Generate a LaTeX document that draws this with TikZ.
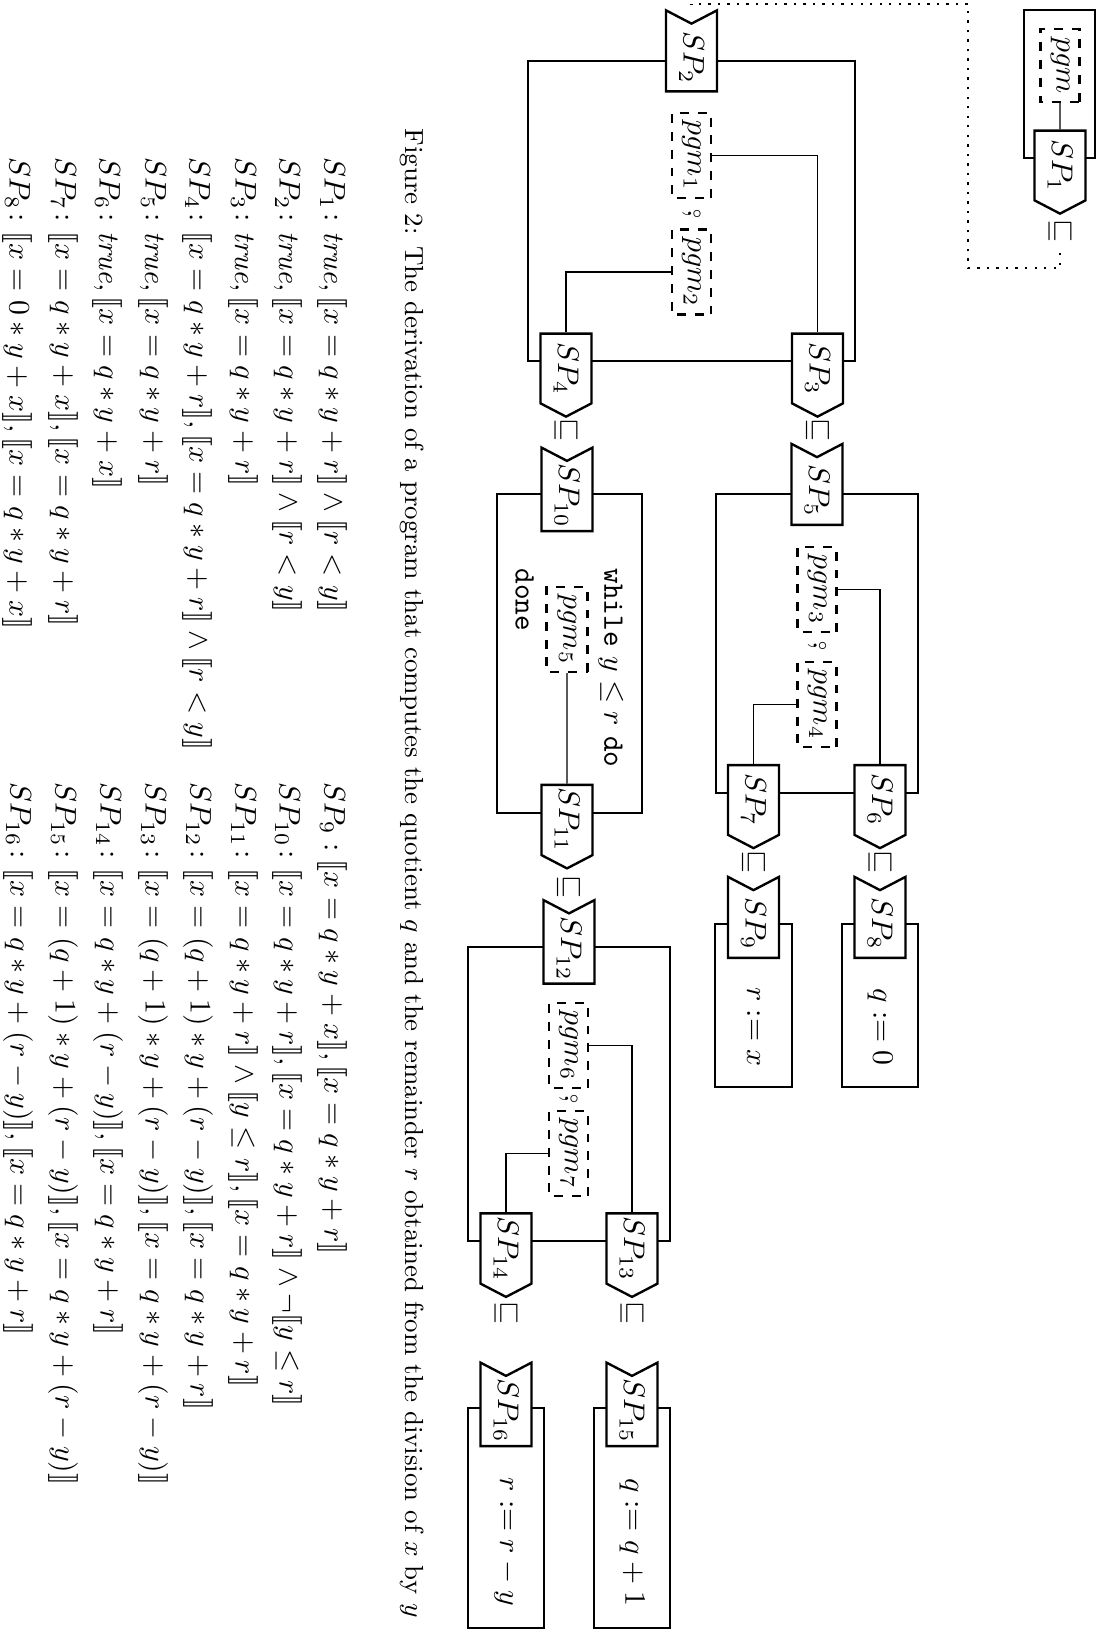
\documentclass[tikz,border=0pt]{standalone}
\usepackage{fontspec}
\usepackage{amsmath}
\usepackage{amssymb}
\usepackage{stmaryrd}
\usepackage{tikz}
\usetikzlibrary{shapes.symbols, positioning}

\newcommand{\unitpx}{0.336pt}
\newcommand{\seqcomp}{\mathbin{\ooalign{\hidewidth\raisebox{1.7pt}{$\scriptscriptstyle\circ$}\hidewidth\cr$,$\cr}}}

\tikzstyle{block} = [thick]
\tikzstyle{sp-out} = [signal, signal to=east, signal pointer angle=125, 
draw=black, thick, fill=white, 
minimum width=83*\unitpx, 
minimum height=51*\unitpx, 
inner sep=1pt]
\tikzstyle{sp-in} = [signal, signal from=west, signal to=nowhere, signal pointer angle=125, 
draw=black, thick, fill=white, 
minimum width=81*\unitpx, 
minimum height=51*\unitpx, 
inner sep=1pt]
\tikzstyle{pgm-box} = [rectangle, dashed, thick, draw=black, 
minimum width=85*\unitpx, 
minimum height=39*\unitpx, 
inner sep=1pt]
\tikzstyle{dots} = [thick, dash pattern=on 0.8pt off 2.4pt]
\tikzstyle{spec} = [anchor=west, inner sep=0pt]

\begin{document}
\begin{tikzpicture}[x=\unitpx, y=\unitpx, rotate=-90, transform shape]
            \useasboundingbox (0,0) rectangle (1645,1099);

            % outer frames
            \draw [block] (10,1024) rectangle (158,1095);
            \draw [block] (61,528) rectangle (361,855);
            \draw [block] (494,716) rectangle (793,918);
            \draw [block] (494,497) rectangle (813,642);
            \draw [block] (924,842) rectangle (1087,918);
            \draw [block] (924,715) rectangle (1087,792);
            \draw [block] (947,468) rectangle (1241,670);
            \draw [block] (1408,594) rectangle (1628,670);
            \draw [block] (1408,468) rectangle (1628,544);

            % SP1
            \node (pgm) [pgm-box, minimum width=73*\unitpx] at (65.5,1060) {$pgm$};
            \node (sp1) [sp-out] at (165.5,1060) {$SP_1$};
            \node (ref1) at (231,1060) {$\sqsubseteq$};

            % SP2
            \node (sp2) [sp-in] at (57.5,691.5) {$SP_2$};
            \node (pgm1) [pgm-box] at (155.5,691.5) {$pgm_1$};
            \node (seq1) at (213.5,691.5) {$\seqcomp$};
            \node (pgm2) [pgm-box] at (272,691.5) {$pgm_2$};
            \node (sp3) [sp-out] at (368.5,817.5) {$SP_3$};
            \node (sp4) [sp-out] at (368.5,566) {$SP_4$};
            \node (ref3) at (430,817.5) {$\sqsubseteq$};
            \node (ref4) at (430,566) {$\sqsubseteq$};

            % SP5
            \node (sp5) [sp-in] at (491,817) {$SP_5$};
            \node (pgm3) [pgm-box] at (589.5,817) {$pgm_3$};
            \node (seq2) at (646,817) {$\seqcomp$};
            \node (pgm4) [pgm-box] at (704.5,817) {$pgm_4$};
            \node (sp6) [sp-out] at (800,880) {$SP_6$};
            \node (sp7) [sp-out] at (800,753.5) {$SP_7$};
            \node (ref6) at (862,880) {$\sqsubseteq$};
            \node (ref7) at (862,753.5) {$\sqsubseteq$};
            \node (sp8) [sp-in] at (924,880) {$SP_8$};
            \node (asg8) at (1027,880) {$q := 0$};
            \node (sp9) [sp-in] at (924,753.5) {$SP_9$};
            \node (asg9) at (1027,753.5) {$r := x$};

            % SP10
            \node (sp10) [sp-in] at (496,567) {$SP_{10}$};
            \node (while) [spec] at (568,611) {\texttt{while} $y \leq r$ \texttt{do}};
            \node (pgm5) [pgm-box, minimum height=41*\unitpx] at (629.5,567) {$pgm_5$};
            \node (done) [spec] at (568,524.5) {\texttt{done}};
            \node (sp11) [sp-out] at (820,567) {$SP_{11}$};
            \node (ref11) at (887,568.5) {$\sqsubseteq$};

            % SP12
            \node (sp12) [sp-in] at (948.5,569) {$SP_{12}$};
            \node (pgm6) [pgm-box] at (1045.5,568.5) {$pgm_6$};
            \node (seq3) at (1099,568.5) {$\seqcomp$};
            \node (pgm7) [pgm-box] at (1153.5,568.5) {$pgm_7$};
            \node (sp13) [sp-out] at (1248.5,632) {$SP_{13}$};
            \node (sp14) [sp-out] at (1248.5,506) {$SP_{14}$};
            \node (ref13) at (1313,632) {$\sqsubseteq$};
            \node (ref14) at (1313,506) {$\sqsubseteq$};
            \node (sp15) [sp-in] at (1411,632) {$SP_{15}$};
            \node (asg15) at (1542,632) {$q := q + 1$};
            \node (sp16) [sp-in] at (1411,506) {$SP_{16}$};
            \node (asg16) at (1542,506) {$r := r - y$};

            % links
            \draw (pgm) -- (sp1);
            \draw (pgm1.north) |- (sp3.west);
            \draw (pgm2.south) |- (sp4.west);
            \draw (pgm3.north) |- (sp6.west);
            \draw (pgm4.south) |- (sp7.west);
            \draw (pgm5) -- (sp11);
            \draw (pgm6.north) |- (sp13.west);
            \draw (pgm7.south) |- (sp14.west);
            \draw [dots, shorten >=6pt] (ref1.east) -- ++(15,0) |- (4,968) |- (sp2.west);

            % caption
            \node (caption) [spec, font=\fontsize{8.8}{11}\selectfont] at (128,412) {Figure 2: The derivation of a program that computes the quotient $q$ and the remainder $r$ obtained from the division of $x$ by $y$};

            % specifications
            \node (spec1) [spec] at (157,332) {$SP_1\colon \mathit{true}, \llbracket x = q*y+r \rrbracket \wedge \llbracket r < y \rrbracket$};
            \node (spec2) [spec] at (157,287) {$SP_2\colon \mathit{true}, \llbracket x = q*y+r \rrbracket \wedge \llbracket r < y \rrbracket$};
            \node (spec3) [spec] at (157,243) {$SP_3\colon \mathit{true}, \llbracket x = q*y+r \rrbracket$};
            \node (spec4) [spec] at (157,197) {$SP_4\colon \llbracket x = q*y+r \rrbracket, \llbracket x = q*y+r \rrbracket \wedge \llbracket r < y \rrbracket$};
            \node (spec5) [spec] at (157,153) {$SP_5\colon \mathit{true}, \llbracket x = q*y+r \rrbracket$};
            \node (spec6) [spec] at (157,107) {$SP_6\colon \mathit{true}, \llbracket x = q*y+x \rrbracket$};
            \node (spec7) [spec] at (157,63) {$SP_7\colon \llbracket x = q*y+x \rrbracket, \llbracket x = q*y+r \rrbracket$};
            \node (spec8) [spec] at (157,17) {$SP_8\colon \llbracket x = 0*y+x \rrbracket, \llbracket x = q*y+x \rrbracket$};
            \node (spec9) [spec] at (782,332) {$SP_9 : \llbracket x = q*y+x \rrbracket, \llbracket x = q*y+r \rrbracket$};
            \node (spec10) [spec] at (782,287) {$SP_{10}\colon \llbracket x = q*y+r \rrbracket, \llbracket x = q*y+r \rrbracket \wedge \neg\llbracket y \leq r \rrbracket$};
            \node (spec11) [spec] at (782,243) {$SP_{11}\colon \llbracket x = q*y+r \rrbracket \wedge \llbracket y \leq r \rrbracket, \llbracket x = q*y+r \rrbracket$};
            \node (spec12) [spec] at (782,198) {$SP_{12}\colon \llbracket x = (q+1)*y+(r-y) \rrbracket, \llbracket x = q*y+r \rrbracket$};
            \node (spec13) [spec] at (782,153) {$SP_{13}\colon \llbracket x = (q+1)*y+(r-y) \rrbracket, \llbracket x = q*y+(r-y) \rrbracket$};
            \node (spec14) [spec] at (782,108) {$SP_{14}\colon \llbracket x = q*y+(r-y) \rrbracket, \llbracket x = q*y+r \rrbracket$};
            \node (spec15) [spec] at (782,63) {$SP_{15}\colon \llbracket x = (q+1)*y+(r-y) \rrbracket, \llbracket x = q*y+(r-y) \rrbracket$};
            \node (spec16) [spec] at (782,18) {$SP_{16}\colon \llbracket x = q*y+(r-y) \rrbracket, \llbracket x = q*y+r \rrbracket$};
        \end{tikzpicture}
\end{document}
